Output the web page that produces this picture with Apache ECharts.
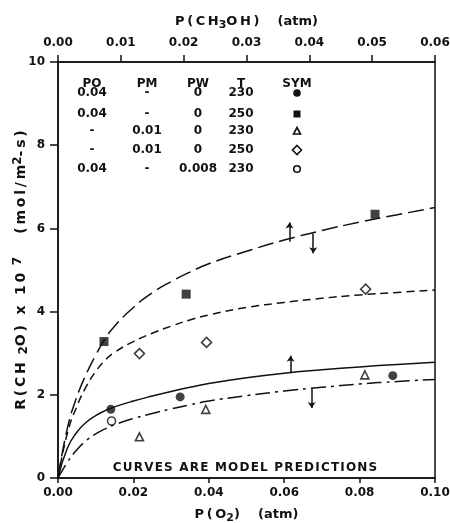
<!DOCTYPE html>
<html>
<head>
<meta charset="utf-8">
<script src="https://cdn.jsdelivr.net/npm/echarts@6/dist/echarts.min.js"></script>
<style>
  html, body { margin: 0; padding: 0; background: #fff; }
  #chart { width: 450px; height: 523px; }
</style>
</head>
<body>
<div id="chart"></div>
<script>
/* ---------- data (x = P(O2) atm, y = rate x 1e7) ---------- */
const curveLongDash = [[0,0],[0.0025,1.2],[0.005,1.95],[0.0075,2.5],[0.01,2.95],[0.0125,3.35],[0.015,3.65],[0.02,4.1],[0.025,4.45],[0.03,4.72],[0.035,4.95],[0.04,5.15],[0.05,5.45],[0.06,5.72],[0.07,5.95],[0.08,6.15],[0.09,6.33],[0.1,6.5]];
const curveShortDash = [[0,0],[0.0025,1.08],[0.005,1.72],[0.0075,2.2],[0.01,2.56],[0.0125,2.83],[0.015,3.02],[0.02,3.28],[0.025,3.48],[0.03,3.65],[0.035,3.8],[0.04,3.92],[0.05,4.1],[0.06,4.22],[0.07,4.32],[0.08,4.4],[0.09,4.46],[0.1,4.52]];
const curveSolid = [[0,0],[0.0025,0.72],[0.005,1.1],[0.0075,1.34],[0.01,1.5],[0.0125,1.62],[0.015,1.71],[0.02,1.85],[0.025,1.97],[0.03,2.08],[0.035,2.18],[0.04,2.27],[0.05,2.41],[0.06,2.52],[0.07,2.6],[0.08,2.67],[0.09,2.73],[0.1,2.78]];
const curveDashDot = [[0,0],[0.0025,0.38],[0.005,0.68],[0.0075,0.9],[0.01,1.06],[0.0125,1.18],[0.015,1.28],[0.02,1.43],[0.025,1.55],[0.03,1.66],[0.035,1.76],[0.04,1.85],[0.05,1.98],[0.06,2.09],[0.07,2.18],[0.08,2.26],[0.09,2.32],[0.1,2.37]];

const ptsPO230 = [[0.0140,1.65],[0.0324,1.95],[0.0888,2.46]];   // filled circle
const ptsPO250 = [[0.0122,3.28],[0.0340,4.42],[0.0841,6.34]];   // filled square
const ptsPM230 = [[0.0216,0.99],[0.0392,1.65],[0.0814,2.48]];   // open triangle
const ptsPM250 = [[0.0216,2.99],[0.0394,3.26],[0.0816,4.54]];   // open diamond
const ptsPW230 = [[0.0142,1.37]];                               // open circle

// little arrows drawn on the curves: [x, yFrom, yTo]
const arrows = [[0.0614,5.68,6.14],[0.0677,5.88,5.40],[0.0617,2.52,2.94],[0.0673,2.16,1.68]];

const tableHead = ['PO', 'PM', 'PW', 'T', 'SYM'];
const tableRows = [
  ['0.04', '-', '0', '230'],
  ['0.04', '-', '0', '250'],
  ['-', '0.01', '0', '230'],
  ['-', '0.01', '0', '250'],
  ['0.04', '-', '0.008', '230']
];
const tableSyms = ['dot', 'square', 'triangle', 'diamond', 'ring'];
const note = 'CURVES ARE MODEL PREDICTIONS';

/* ---------- layout ---------- */
const INK = '#111';
const FONT = 'DejaVu Sans';
const colX = [92, 147, 198, 241, 297];
const headY = 84;
const rowY = [93, 114, 131, 150, 169];

// spread letters a little, the figure uses wide lettering
const track = (s, sp) => s.split('').join(sp);
const THIN = '\u2009';

const nameStyle = (size) => ({
  b: { fontFamily: FONT, fontWeight: 'bold', fontSize: size, color: INK, lineHeight: 18, verticalAlign: 'middle' },
  sub: { fontFamily: FONT, fontWeight: 'bold', fontSize: size - 2, color: INK, lineHeight: 18, verticalAlign: 'bottom' },
  sup: { fontFamily: FONT, fontWeight: 'bold', fontSize: size - 2, color: INK, lineHeight: 18, verticalAlign: 'top' }
});
const tok = (style, s, sp) => '{' + style + '|' + (sp ? track(s, sp) : s) + '}';

function symGraphic(kind, cx, cy) {
  const fill = { fill: INK };
  const open = { fill: '#fff', stroke: INK, lineWidth: 1.6 };
  if (kind === 'dot') return { type: 'circle', shape: { cx, cy, r: 3.8 }, style: fill };
  if (kind === 'square') return { type: 'rect', shape: { x: cx - 3.5, y: cy - 3.5, width: 7, height: 7 }, style: fill };
  if (kind === 'triangle') return { type: 'polygon', shape: { points: [[cx, cy - 3.5], [cx + 3.5, cy + 3], [cx - 3.5, cy + 3]] }, style: open };
  if (kind === 'diamond') return { type: 'polygon', shape: { points: [[cx, cy - 4.5], [cx + 4.5, cy], [cx, cy + 4.5], [cx - 4.5, cy]] }, style: open };
  return { type: 'circle', shape: { cx, cy, r: 3.3 }, style: open };
}

const cellFont = 'bold 12px ' + FONT;
const graphics = [];
tableHead.forEach((h, i) => {
  graphics.push({ type: 'text', x: colX[i], y: headY, style: { text: h, align: 'center', verticalAlign: 'middle', font: cellFont, fill: INK } });
});
tableRows.forEach((row, r) => {
  row.forEach((c, i) => {
    graphics.push({ type: 'text', x: colX[i], y: rowY[r], style: { text: c, align: 'center', verticalAlign: 'middle', font: cellFont, fill: INK } });
  });
  graphics.push(symGraphic(tableSyms[r], colX[4], rowY[r]));
});
graphics.push({ type: 'text', x: 245, y: 468, style: { text: track(note, '\u200A'), align: 'center', verticalAlign: 'middle', font: cellFont, fill: INK } });

/* ---------- chart ---------- */
const chart = echarts.init(document.getElementById('chart'));

const axisLine = { show: true, lineStyle: { color: INK, width: 1.5 } };
const tickLabel = { color: INK, fontFamily: FONT, fontWeight: 'bold', fontSize: 12 };

function curve(data, type) {
  return {
    type: 'line', data, showSymbol: false, smooth: 0.5,
    lineStyle: { color: INK, width: 1.5, type }, z: 2, silent: true
  };
}
function pts(data, symbol, size, filled) {
  return {
    type: 'scatter', data, symbol, symbolSize: size, z: 5,
    itemStyle: filled ? { color: INK } : { color: '#fff', borderColor: INK, borderWidth: 1.6 }
  };
}

const solid = curve(curveSolid, 'solid');
solid.markLine = {
  silent: true, symbol: ['none', 'arrow'], symbolSize: 6,
  label: { show: false },
  lineStyle: { color: INK, width: 1.5, type: 'solid' },
  data: arrows.map(a => [{ coord: [a[0], a[1]] }, { coord: [a[0], a[2]] }])
};

chart.setOption({
  animation: false,
  backgroundColor: '#fff',
  grid: {
    left: 58, right: 15, top: 62, bottom: 45,
    containLabel: false, outerBoundsMode: 'none',
    show: true, borderColor: INK, borderWidth: 1.5
  },
  xAxis: [{
    type: 'value', position: 'bottom', min: 0, max: 0.1, interval: 0.02,
    axisLine, splitLine: { show: false },
    axisTick: { show: true, inside: false, length: 5, lineStyle: { color: INK, width: 1.5 } },
    axisLabel: Object.assign({ margin: 9, formatter: v => v.toFixed(2) }, tickLabel),
    name: tok('b', 'P(O', THIN) + tok('sub', '2') + tok('b', ')    (atm)'),
    nameLocation: 'middle', nameGap: 28, nameMoveOverlap: false,
    nameTextStyle: { rich: nameStyle(13) }
  }, {
    type: 'value', position: 'top', min: 0, max: 0.06, interval: 0.01,
    axisLine, splitLine: { show: false },
    axisTick: { show: true, inside: false, length: 7, lineStyle: { color: INK, width: 1.5 } },
    axisLabel: Object.assign({ margin: 13, formatter: v => v.toFixed(2) }, tickLabel),
    name: tok('b', 'P(CH', THIN) + tok('sub', '3') + tok('b', 'OH)', THIN) + tok('b', '    (atm)'),
    nameLocation: 'middle', nameGap: 31, nameMoveOverlap: false,
    nameTextStyle: { rich: nameStyle(13) }
  }],
  yAxis: {
    type: 'value', min: 0, max: 10, interval: 2,
    axisLine, splitLine: { show: false },
    axisTick: { show: true, inside: false, length: 8, lineStyle: { color: INK, width: 1.5 } },
    axisLabel: Object.assign({ margin: 13 }, tickLabel),
    name: tok('b', 'R(CH ', THIN) + tok('sub', '2') + tok('b', 'O) x 10 ', THIN) + tok('sup', '7') + tok('b', '   (mol/m', THIN) + tok('sup', '2') + tok('b', '-s)', THIN),
    nameLocation: 'middle', nameGap: 28, nameMoveOverlap: false,
    nameTextStyle: { rich: nameStyle(14) }
  },
  graphic: graphics,
  series: [
    curve(curveLongDash, [16, 6]),
    curve(curveShortDash, [8, 5]),
    solid,
    curve(curveDashDot, [15, 5, 3, 5]),
    pts(ptsPO230, 'circle', 9, true),
    pts(ptsPO250, 'rect', 9, true),
    pts(ptsPM230, 'triangle', 8, false),
    pts(ptsPM250, 'diamond', 10, false),
    pts(ptsPW230, 'circle', 8, false)
  ]
});
</script>
</body>
</html>
